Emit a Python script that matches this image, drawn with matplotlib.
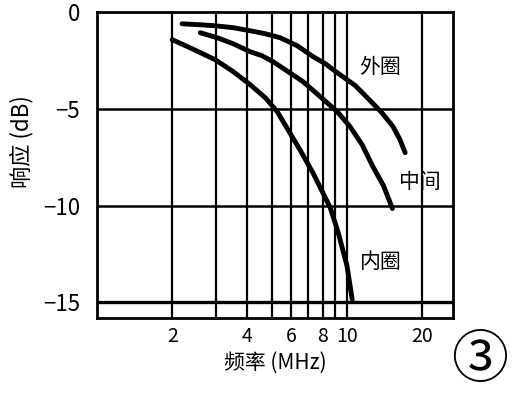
import matplotlib
matplotlib.use("Agg")
import matplotlib.pyplot as plt

plt.rcParams['font.family'] = ['Noto Sans CJK SC', 'DejaVu Sans']

# 外圈
outer_f = [2.19, 2.59, 2.97, 3.51, 4.10, 4.71, 5.41, 6.32, 7.33, 8.19, 9.14,
           10.8, 12.4, 13.8, 15.3, 16.3, 17.1]
outer_db = [-0.62, -0.67, -0.72, -0.82, -0.98, -1.13, -1.34, -1.75, -2.32, -2.68,
            -3.14, -3.81, -4.59, -5.21, -5.93, -6.60, -7.27]

# 中间
middle_f = [2.59, 3.03, 3.51, 4.10, 4.58, 5.07, 5.82, 6.68, 7.82, 9.14, 10.3,
            11.5, 12.7, 14.0, 15.2]
middle_db = [-1.08, -1.34, -1.65, -2.06, -2.27, -2.58, -3.09, -3.61, -4.38, -5.15,
             -5.93, -6.86, -7.99, -8.97, -10.15]

# 内圈
inner_f = [2.0, 2.36, 2.97, 3.51, 4.10, 4.71, 5.26, 5.82, 6.50, 7.33, 8.57,
           9.23, 10.0, 10.5]
inner_db = [-1.44, -1.86, -2.47, -3.09, -3.76, -4.43, -5.15, -6.1, -7.14, -8.34,
            -10.1, -11.4, -13.1, -14.85]

# eixos
grid_f = [2, 3, 4, 5, 6, 7, 8, 9, 10, 20]
grid_f_labels = ["2", "", "4", "", "6", "", "8", "", "10", "20"]
grid_db = [0, -5, -10, -15]
grid_db_labels = ["0", "−5", "−10", "−15"]

fig = plt.figure(figsize=(5.24, 3.93), dpi=100)
ax = fig.add_axes([0.185, 0.191, 0.679, 0.779])

# grade
for f in grid_f:
    ax.axvline(f, color="black", lw=1.6, zorder=1)
for d in grid_db[1:]:
    ax.axhline(d, color="black", lw=2.4 if d == -15 else 1.8, zorder=1)

# curvas
for fs, dbs in [(outer_f, outer_db), (middle_f, middle_db), (inner_f, inner_db)]:
    ax.plot(fs, dbs, color="black", lw=3.5, solid_capstyle="round",
            solid_joinstyle="round", zorder=3)

ax.set_xscale("log")
ax.set_xlim(1.0, 26.5)
ax.set_ylim(-15.8, 0)
ax.set_xticks(grid_f)
ax.set_xticklabels(grid_f_labels)
ax.minorticks_off()
ax.set_yticks(grid_db)
ax.set_yticklabels(grid_db_labels)
ax.tick_params(axis="x", length=0, pad=6, labelsize=14)
ax.tick_params(axis="y", length=0, pad=12, labelsize=16)
for s in ax.spines.values():
    s.set_linewidth(2)

# rotulos das curvas
ax.text(13.6, -2.84, "外圈", fontsize=15, ha="center", va="center")
ax.text(19.6, -8.8, "中间", fontsize=15, ha="center", va="center")
ax.text(13.6, -12.9, "内圈", fontsize=15, ha="center", va="center")

ax.set_xlabel("频率 (MHz)", fontsize=15, labelpad=3)
fig.text(0.042, 0.64, "响应 (dB)", rotation=90, fontsize=16, ha="center", va="center")
fig.text(0.916, 0.083, "③", fontsize=41, ha="center", va="center")

fig.savefig("out.png", dpi=100)
